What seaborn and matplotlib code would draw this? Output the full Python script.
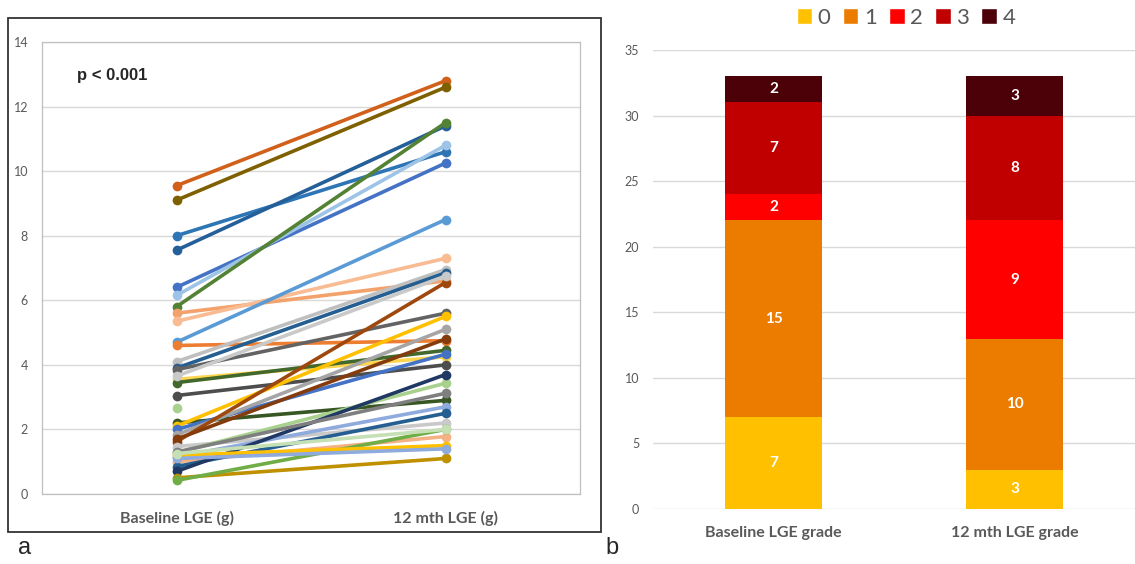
import numpy as np
import pandas as pd
import matplotlib
matplotlib.use("Agg")
import matplotlib.pyplot as plt
import seaborn as sns
from matplotlib.patches import Rectangle, Patch

# panel a: LGE mass (g) for each patient, baseline and at 12 months
baseline_lge = [9.55, 9.1, 8.0, 7.55, 6.4, 6.15, 5.8, 5.6, 5.35, 4.7,
                4.6, 4.1, 3.9, 3.85, 3.55, 3.45, 3.05, 2.65, 2.2, 2.1,
                2.0, 1.83, 1.62, 1.7, 1.47, 1.28, 1.15, 1.0, 0.85, 0.7,
                1.3, 0.5, 0.42, 1.2, 1.1, 1.25, 3.65]
month12_lge = [12.8, 12.6, 10.6, 11.4, 10.25, 10.8, 11.5, 6.6, 7.3, 8.5,
               4.75, 6.95, 6.85, 5.6, 4.25, 4.45, 4.0, np.nan, 2.9, 5.5,
               4.33, 5.1, 6.55, 4.8, 2.2, 3.43, 2.7, 1.78, 2.5, 3.7,
               3.12, 1.1, 2.0, 1.5, 1.4, 2.0, 6.75]
time_labels = ["Baseline LGE (g)", "12 mth LGE (g)"]

# panel b: number of patients per LGE grade
grades = ["0", "1", "2", "3", "4"]
stage_labels = ["Baseline LGE grade", "12 mth LGE grade"]
baseline_counts = [7, 15, 2, 7, 2]
month12_counts = [3, 10, 9, 8, 3]

line_colors = ["#D0601A", "#7F6000", "#2E75B6", "#245F99", "#4472C4", "#9DC3E6",
               "#548235", "#F4A26B", "#F8BB92", "#5B9BD5", "#ED7D31", "#BFBFBF",
               "#255E91", "#636363", "#FFD54F", "#43682B", "#4D4D4D", "#A9D18E",
               "#375623", "#FFC000", "#4472C4", "#A5A5A5", "#9E480E", "#843C0C",
               "#C9C9C9", "#A9D18E", "#8FAADC", "#F4B183", "#255E91", "#203864",
               "#7F7F7F", "#BF9000", "#70AD47", "#FFC000", "#8FAADC", "#C5E0B4",
               "#C9C9C9"]
grade_colors = ["#FFC000", "#EC7C00", "#FF0000", "#C00000", "#4C0008"]

sns.set_style("white")
plt.rcParams["font.family"] = ["Lato", "DejaVu Sans"]
text_grey = "#595959"

fig = plt.figure(figsize=(11.35, 5.64), dpi=100)

# ---- panel a ----
rows = []
for i, (b, m) in enumerate(zip(baseline_lge, month12_lge)):
    pid = f"P{i:02d}"
    rows.append({"patient": pid, "time": time_labels[0], "lge": b})
    rows.append({"patient": pid, "time": time_labels[1], "lge": m})
df = pd.DataFrame(rows)

ax1 = fig.add_axes([42 / 1135, 70 / 564, 538 / 1135, 452 / 564])
sns.lineplot(data=df, x="time", y="lge", hue="patient", palette=line_colors,
             marker="o", markersize=7, markeredgewidth=0, linewidth=2.6,
             estimator=None, errorbar=None, sort=False, legend=False, ax=ax1)
ax1.set_xlim(-0.5, 1.5)
ax1.set_ylim(0, 14)
ax1.set_yticks(range(0, 15, 2))
ax1.yaxis.grid(True, color="#D9D9D9", linewidth=1)
ax1.set_axisbelow(True)
ax1.set_xlabel("")
ax1.set_ylabel("")
for s in ax1.spines.values():
    s.set_color("#BFBFBF")
    s.set_linewidth(0.9)
ax1.tick_params(axis="y", length=0, labelsize=9, labelcolor=text_grey, pad=10)
ax1.tick_params(axis="x", length=0, labelsize=11.5, labelcolor=text_grey, pad=12)
for t in ax1.get_xticklabels():
    t.set_fontweight("bold")
ax1.text(0.065, 0.925, "p < 0.001", transform=ax1.transAxes, fontsize=12,
         fontweight="bold", family="Liberation Sans", va="center", ha="left")

fig.add_artist(Rectangle((8 / 1135, 32 / 564), 593 / 1135, 514 / 564,
                         transform=fig.transFigure, fill=False,
                         edgecolor="#333333", linewidth=1.3))

# ---- panel b ----
ax2 = fig.add_axes([653 / 1135, 55 / 564, 482 / 1135, 459 / 564])
counts = np.array([baseline_counts, month12_counts])
cum = counts.cumsum(axis=1)
for g in range(len(grades) - 1, -1, -1):
    sns.barplot(x=stage_labels, y=cum[:, g], color=grade_colors[g],
                saturation=1, width=0.4, linewidth=0, edgecolor="none", ax=ax2)
for j in range(len(stage_labels)):
    for g in range(len(grades)):
        mid = cum[j, g] - counts[j, g] / 2
        ax2.text(j, mid, str(counts[j, g]), color="white", fontsize=11,
                 fontweight="bold", ha="center", va="center")
ax2.set_xlim(-0.5, 1.5)
ax2.set_ylim(0, 35)
ax2.set_yticks(range(0, 36, 5))
ax2.yaxis.grid(True, color="#D9D9D9", linewidth=1)
ax2.set_axisbelow(True)
sns.despine(ax=ax2, left=True, bottom=True)
ax2.set_xlabel("")
ax2.set_ylabel("")
ax2.tick_params(axis="y", length=0, labelsize=9, labelcolor=text_grey, pad=10)
ax2.tick_params(axis="x", length=0, labelsize=11.5, labelcolor=text_grey, pad=12)
for t in ax2.get_xticklabels():
    t.set_fontweight("bold")

handles = [Patch(facecolor=c, label=g) for g, c in zip(grades, grade_colors)]
leg = fig.legend(handles=handles, loc="center", bbox_to_anchor=(906 / 1135, 546 / 564),
                 ncol=5, frameon=False, fontsize=16, handlelength=0.7,
                 handleheight=0.7, handletextpad=0.25, columnspacing=0.55)
for t in leg.get_texts():
    t.set_color(text_grey)

fig.text(18 / 1135, 16 / 564, "a", fontsize=17, family="Liberation Sans", va="center")
fig.text(605 / 1135, 16 / 564, "b", fontsize=17, family="Liberation Sans", va="center")

fig.savefig("out.png", dpi=100)
